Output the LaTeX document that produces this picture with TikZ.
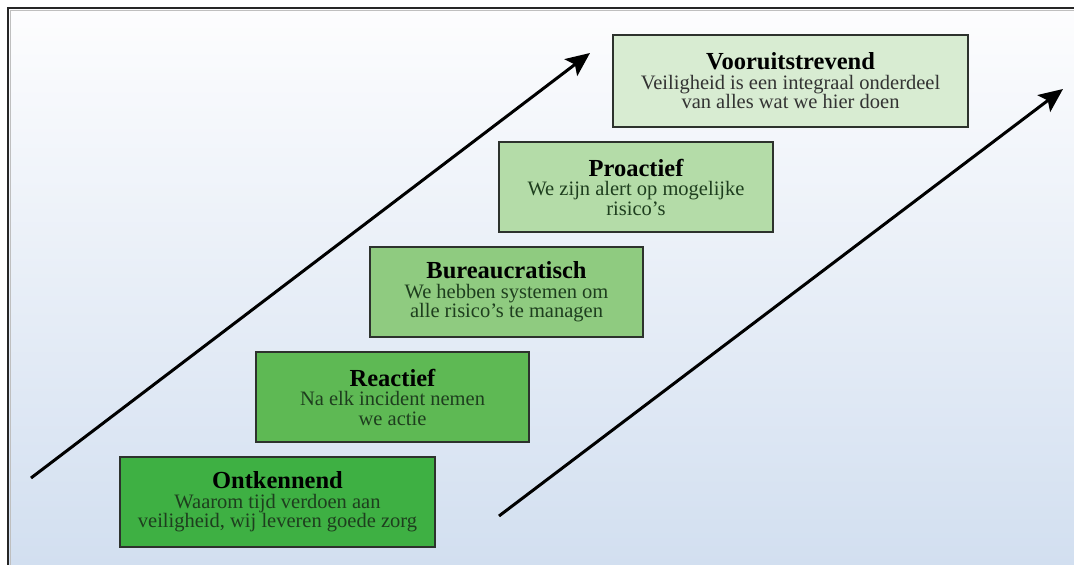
\documentclass[tikz,border=0pt]{standalone}
\usepackage{fontspec}
\setmainfont{Liberation Serif}
\usetikzlibrary{arrows.meta}
\definecolor{bgtop}{RGB}{253,253,254}
\definecolor{bgbot}{RGB}{210,223,240}
\definecolor{gA}{RGB}{62,176,67}
\definecolor{gB}{RGB}{94,185,84}
\definecolor{gC}{RGB}{143,203,128}
\definecolor{gD}{RGB}{180,220,168}
\definecolor{gE}{RGB}{216,236,210}
\definecolor{subtxt}{RGB}{30,62,30}
\definecolor{boxline}{RGB}{45,50,45}
\tikzset{
  levelbox/.style={draw=boxline, line width=1.8pt, rectangle, minimum height=90pt,
    align=center, inner sep=2pt, font=\fontsize{20.5}{19.5}\selectfont, text=subtxt},
  bigarrow/.style={line width=3pt, -{Stealth[length=24pt,width=21pt,inset=5pt]}},
}
\newcommand{\lvltitle}[1]{{\fontsize{24.5}{19}\selectfont\bfseries\color{black}#1}}
\begin{document}
\begin{tikzpicture}[x=1pt,y=-1pt]
\useasboundingbox (0,0) rectangle (1074,565);
\shade[top color=bgtop, bottom color=bgbot] (8,8) rectangle (1074,565);
\draw[line width=2.5pt, black!85] (8,565) -- (8,8) -- (1074,8);
\draw[line width=1.2pt, black!25] (10.5,565) -- (10.5,10.5) -- (1074,10.5);

\coordinate (a1s) at (31,478);
\coordinate (a1e) at (590,53);
\coordinate (a2s) at (499,516);
\coordinate (a2e) at (1063,89);
\draw[bigarrow] (a1s) -- (a1e);
\draw[bigarrow] (a2s) -- (a2e);

\node[levelbox, fill=gA, minimum width=315pt] (ont) at (277.5,502)
  {\lvltitle{Ontkennend}\\Waarom tijd verdoen aan\\veiligheid, wij leveren goede zorg};
\node[levelbox, fill=gB, minimum width=273pt] (rea) at (392.5,397)
  {\lvltitle{Reactief}\\Na elk incident nemen\\we actie};
\node[levelbox, fill=gC, minimum width=273pt] (bur) at (506.5,292)
  {\lvltitle{Bureaucratisch}\\We hebben systemen om\\alle risico’s te managen};
\node[levelbox, fill=gD, minimum width=274pt] (pro) at (636,187)
  {\lvltitle{Proactief}\\We zijn alert op mogelijke\\risico’s};
\node[levelbox, fill=gE, minimum width=355pt, minimum height=92pt, text=black!80] (voo) at (790.5,81)
  {\lvltitle{Vooruitstrevend}\\Veiligheid is een integraal onderdeel\\van alles wat we hier doen};
\end{tikzpicture}
\end{document}
